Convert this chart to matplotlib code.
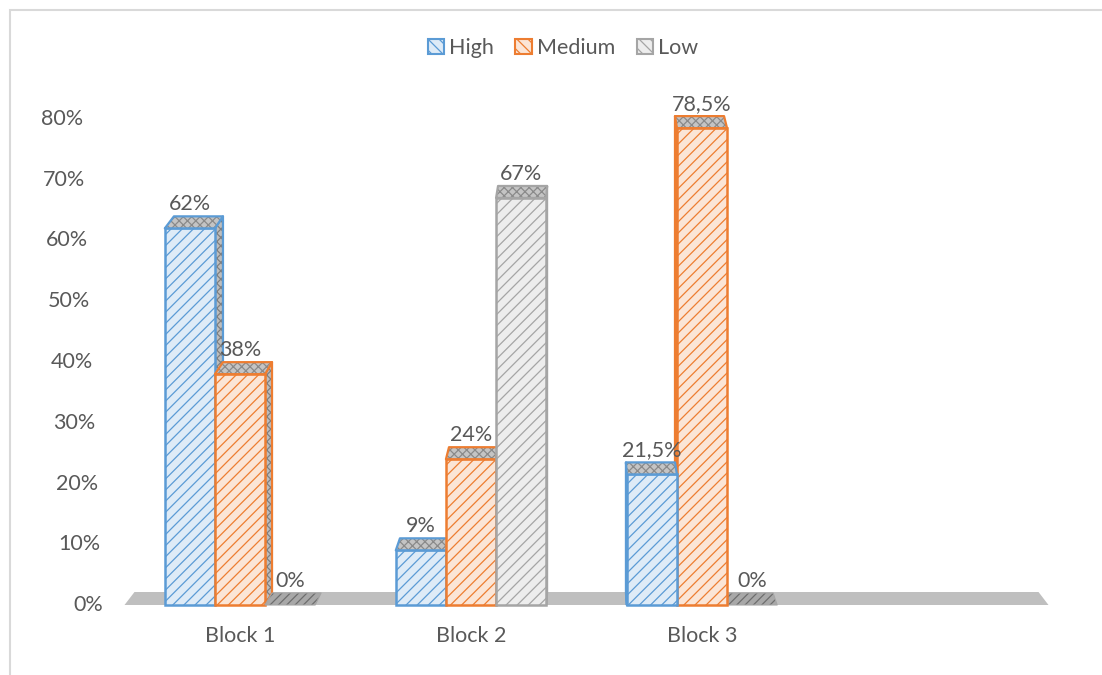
import matplotlib
matplotlib.use("Agg")
import matplotlib.pyplot as plt
from matplotlib.patches import Polygon, Patch, Rectangle
import numpy as np

# ---- data ----
categories = ["Block 1", "Block 2", "Block 3", ""]
series_names = ["High", "Medium", "Low"]
high = [0.62, 0.09, 0.215]
medium = [0.38, 0.24, 0.785]
low = [0.0, 0.67, 0.0]
value_labels = [["62%", "9%", "21,5%"],
                ["38%", "24%", "78,5%"],
                ["0%", "67%", "0%"]]
y_ticks = [0.0, 0.1, 0.2, 0.3, 0.4, 0.5, 0.6, 0.7, 0.8]
y_tick_labels = ["0%", "10%", "20%", "30%", "40%", "50%", "60%", "70%", "80%"]

# ---- style ----
edge_colors = ["#5B9BD5", "#ED7D31", "#A5A5A5"]
face_colors = ["#DEEBF7", "#FBE5D6", "#EDEDED"]
text_color = "#595959"
font = "Lato"
plt.rcParams["font.family"] = [font, "DejaVu Sans"]
plt.rcParams["hatch.linewidth"] = 0.9

W, H, DPI = 1102, 675, 100
fig = plt.figure(figsize=(W / DPI, H / DPI), dpi=DPI)

# axes placement in pixels
ax_left, ax_right = 124.5, 1048.5
ax_bottom_px = 605.0
ylim_top = 0.85
px_per_y = 607.5
ax_top_px = ax_bottom_px - ylim_top * px_per_y
ax = fig.add_axes([ax_left / W, (H - ax_bottom_px) / H,
                   (ax_right - ax_left) / W, (ax_bottom_px - ax_top_px) / H])
ax.set_xlim(-0.5, 3.5)
ax.set_ylim(0, ylim_top)
ax.axis("off")

px_per_x = (ax_right - ax_left) / 4.0
vanish_px = 587.0
k_persp = 0.0216
depth_px = 12.0


def to_px_x(x):
    return ax_left + (x + 0.5) * px_per_x


def depth(x, dpx=depth_px):
    """Depth offset (data units) of a point at data x."""
    dx_px = k_persp * (vanish_px - to_px_x(x))
    return dx_px / px_per_x, dpx / px_per_y


def face(points, fc, hatch_col, hatch, ec, z, lw=1.6):
    ax.add_patch(Polygon(points, closed=True, facecolor=fc, edgecolor=hatch_col,
                         hatch=hatch, linewidth=0, zorder=z, clip_on=False))
    ax.add_patch(Polygon(points, closed=True, fill=False, edgecolor=ec,
                         linewidth=lw, zorder=z + 0.01, clip_on=False,
                         joinstyle="round"))


# floor
fl_dx0, fl_dy = depth(-0.5, 13)
fl_dx1, _ = depth(3.5, 13)
ax.add_patch(Polygon([(-0.5, 0), (3.5, 0), (3.5 + fl_dx1, fl_dy), (-0.5 + fl_dx0, fl_dy)],
                     closed=True, facecolor="#BFBFBF", edgecolor="none",
                     zorder=1, clip_on=False))

bar_w = 0.217
offsets = [-bar_w, 0.0, bar_w]
values = [high, medium, low]
x_idx = np.arange(3)

z = 2.0
for ci in range(3):
    # draw order so that neighbouring bars hide the inner side faces
    order = [0, 1, 2] if to_px_x(ci) < vanish_px else [2, 1, 0]
    for si in order:
        v = values[si][ci]
        xc = x_idx[ci] + offsets[si]
        xl, xr = xc - bar_w / 2, xc + bar_w / 2
        dxl, dy = depth(xl)
        dxr, _ = depth(xr)
        if v > 0:
            ax.bar([xc], [v], width=bar_w, color=face_colors[si],
                   edgecolor=edge_colors[si], hatch="///", linewidth=1.8,
                   zorder=z + 0.5, clip_on=False)
            # side face
            if dxr > 0:
                side = [(xr, 0), (xr, v), (xr + dxr, v + dy), (xr + dxr, dy)]
            else:
                side = [(xl, 0), (xl, v), (xl + dxl, v + dy), (xl + dxl, dy)]
            face(side, "#BDBDBD", "#7F7F7F", "xxxx", edge_colors[si], z)
            top = [(xl, v), (xr, v), (xr + dxr, v + dy), (xl + dxl, v + dy)]
            face(top, "#C4C4C4", "#8A8A8A", "xxxx", edge_colors[si], z + 0.6)
        else:
            top = [(xl, 0), (xr, 0), (xr + dxr, dy), (xl + dxl, dy)]
            face(top, "#A8A8A8", "#6E6E6E", "////", "#A5A5A5", z + 0.6, lw=0.8)
        ax.annotate(value_labels[si][ci], (xc, v), xytext=(0, 14),
                    textcoords="offset pixels", ha="center", va="bottom",
                    fontsize=15.5, color=text_color, zorder=20,
                    annotation_clip=False)
        z += 1.0

# y axis labels (slanted by the 3D perspective)
for v, lab in zip(y_ticks, y_tick_labels):
    pad_px = 21.5 + 25 * v
    ax.annotate(lab, (-0.5, v), xytext=(-pad_px, 0), textcoords="offset pixels",
                ha="right", va="center", fontsize=15.5, color=text_color,
                annotation_clip=False)

# category labels
for i, c in enumerate(categories):
    ax.annotate(c, (i, 0), xytext=(0, -31), textcoords="offset pixels",
                ha="center", va="center", fontsize=15.5, color=text_color,
                annotation_clip=False)

# legend
handles = [Patch(facecolor=face_colors[i], edgecolor=edge_colors[i], hatch="\\\\\\",
                 linewidth=1.5) for i in range(3)]
fig.legend(handles, series_names, loc="center", bbox_to_anchor=(563 / W, 1 - 48 / H),
           ncol=3, frameon=False, fontsize=15.5, handlelength=0.75, handleheight=0.75,
           handletextpad=0.25, columnspacing=1.0, labelcolor=text_color)

# chart border
fig.patches.append(Rectangle((10 / W, -0.1), 1.2, 1.1 - 10 / H,
                             transform=fig.transFigure, fill=False,
                             edgecolor="#D9D9D9", linewidth=1.5))

fig.savefig("out.png", dpi=DPI)
